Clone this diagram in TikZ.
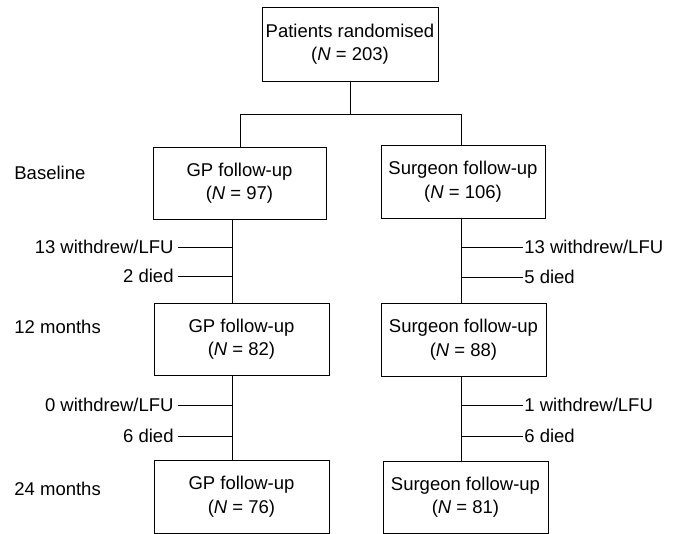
\documentclass[tikz,border=0pt]{standalone}
\usepackage{fontspec}
\setmainfont{Liberation Sans}
\begin{document}
\begin{tikzpicture}[x=1pt,y=-1pt,
  font=\fontsize{18.5}{23.5}\selectfont,
  line width=0.8pt,
  box/.style={draw, rectangle, align=center, inner sep=0pt},
  lab/.style={inner sep=0pt}]
\useasboundingbox (0,0) rectangle (681,534);
% boxes
\node[box, minimum width=176pt, minimum height=74pt] (top) at (350,44) {Patients randomised\\(\textit{N} = 203)};
\node[box, minimum width=173pt, minimum height=72pt] (gp0) at (239.5,183) {GP follow-up\\(\textit{N} = 97)};
\node[box, minimum width=164pt, minimum height=73pt] (sg0) at (463,181.5) {Surgeon follow-up\\(\textit{N} = 106)};
\node[box, minimum width=175pt, minimum height=72pt] (gp1) at (241.5,339) {GP follow-up\\(\textit{N} = 82)};
\node[box, minimum width=165pt, minimum height=73pt] (sg1) at (463.5,339.5) {Surgeon follow-up\\(\textit{N} = 88)};
\node[box, minimum width=175pt, minimum height=73pt] (gp2) at (241.5,496.5) {GP follow-up\\(\textit{N} = 76)};
\node[box, minimum width=165pt, minimum height=72pt] (sg2) at (465.5,497) {Surgeon follow-up\\(\textit{N} = 81)};
% time labels
\node[lab, anchor=west] (tb) at (14,173) {Baseline};
\node[lab, anchor=west] (t12) at (14,327) {12 months};
\node[lab, anchor=west] (t24) at (14,489) {24 months};
% split
\coordinate (split) at (350,114);
\coordinate (sl) at (240,114);
\coordinate (sr) at (461,114);
\draw (top.south) -- (split);
\draw (sl) -- (sr);
\draw (sl) -- (sl |- gp0.north);
\draw (sr) -- (sr |- sg0.north);
% GP verticals
\coordinate (g0b) at (232,219);
\coordinate (g1t) at (232,303);
\coordinate (g1b) at (232,375);
\coordinate (g2t) at (232,460);
\draw (g0b) -- (g1t);
\draw (g1b) -- (g2t);
% Surgeon verticals
\coordinate (s0b) at (461,218);
\coordinate (s1t) at (461,303);
\coordinate (s1b) at (461,376);
\coordinate (s2t) at (461,461);
\draw (s0b) -- (s1t);
\draw (s1b) -- (s2t);
% GP side labels
\node[lab, anchor=east] (ga) at (174,247) {13 withdrew/LFU};
\node[lab, anchor=east] (gb) at (174,276) {2 died};
\node[lab, anchor=east] (gc) at (174,405) {0 withdrew/LFU};
\node[lab, anchor=east] (gd) at (174,436) {6 died};
\draw ([xshift=4pt]ga.east) -- (ga.east -| g0b);
\draw ([xshift=4pt]gb.east) -- (gb.east -| g0b);
\draw ([xshift=4pt]gc.east) -- (gc.east -| g1b);
\draw ([xshift=4pt]gd.east) -- (gd.east -| g1b);
% Surgeon side labels
\node[lab, anchor=west] (sa) at (524,247) {13 withdrew/LFU};
\node[lab, anchor=west] (sb) at (524,277) {5 died};
\node[lab, anchor=west] (sc) at (524,405) {1 withdrew/LFU};
\node[lab, anchor=west] (sd) at (524,436) {6 died};
\draw ([xshift=-1pt]sa.west) -- (sa.west -| s0b);
\draw ([xshift=-1pt]sb.west) -- (sb.west -| s0b);
\draw ([xshift=-1pt]sc.west) -- (sc.west -| s1b);
\draw ([xshift=-1pt]sd.west) -- (sd.west -| s1b);
\end{tikzpicture}
\end{document}
